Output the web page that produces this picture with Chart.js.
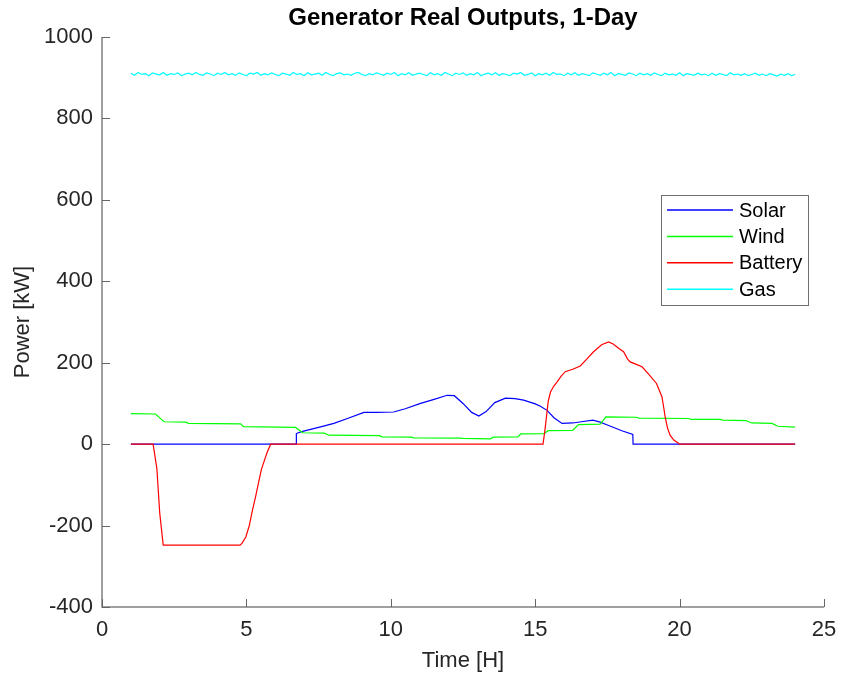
<!DOCTYPE html>
<html><head><meta charset="utf-8">
<script src="https://cdn.jsdelivr.net/npm/chart.js@4.4.0/dist/chart.umd.min.js"></script>
<style>html,body{margin:0;padding:0;background:#fff;}</style>
</head><body>
<canvas id="c" width="841" height="682"></canvas>
<script>
// ---- data ----
const seriesNames = ['Solar', 'Wind', 'Battery', 'Gas'];
const seriesColors = ['#0000ff', '#00ff00', '#ff0000', '#00ffff'];

const solarHours = [1, 6.72, 6.73, 6.88, 7.5, 8.03, 8.5, 9.07, 9.5, 10.1, 10.5, 11.03, 11.5, 11.95, 12.2, 12.5, 12.8, 13.05, 13.3, 13.6, 13.97, 14.3, 14.6, 15.0, 15.18, 15.41, 15.65, 15.93, 16.3, 16.6, 17.0, 17.25, 17.5, 18.0, 18.38, 18.39, 24];
const solarKW    = [0, 0, 26, 30, 41, 51, 63, 78, 78, 79, 87, 100, 110, 120, 119, 100, 78, 69, 80, 102, 113, 112, 108, 99, 93, 83, 65, 51, 52, 55, 59, 54, 47, 33, 24, 0, 0];

const windHours = [1, 1.85, 2.15, 2.9, 3.0, 4.8, 4.9, 6.7, 6.95, 7.7, 7.85, 9.6, 9.7, 10.7, 10.8, 12.4, 12.5, 13.45, 13.55, 14.4, 14.5, 15.3, 15.45, 16.3, 16.5, 17.25, 17.45, 18.5, 18.6, 20.3, 20.4, 21.4, 21.5, 22.3, 22.5, 23.2, 23.4, 24];
const windKW    = [75, 74, 55, 54, 51, 50, 43, 41, 28, 27, 22, 21, 18, 17, 15.5, 15, 14, 13, 17, 18, 25, 26, 33, 34, 48, 49, 67, 66, 64, 63, 61, 61, 59, 58, 52, 51, 44, 42];

const batteryHours = [1, 1.77, 1.9, 2.0, 2.12, 4.78, 4.85, 4.98, 5.1, 5.21, 5.33, 5.44, 5.52, 5.61, 5.72, 5.84, 15.27, 15.33, 15.39, 15.45, 15.53, 15.64, 15.76, 15.9, 16.04, 16.3, 16.56, 16.8, 17.02, 17.3, 17.54, 17.7, 17.9, 18.06, 18.2, 18.29, 18.5, 18.7, 18.95, 19.2, 19.3, 19.39, 19.45, 19.5, 19.58, 19.67, 19.8, 19.96, 20, 24];
const batteryKW    = [0, 0, -60, -170, -248, -248, -243, -228, -200, -162, -125, -88, -62, -43, -20, 0, 0, 30, 67, 105, 128, 142, 153, 167, 178, 184, 192, 210, 227, 244, 251, 246, 235, 227, 209, 202, 196, 190, 170, 149, 132, 116, 90, 67, 40, 22, 10, 2, 0, 0];

// Gas sampled every eighth of an hour from hour 1 to hour 24 (185 samples)
const gasStartHour = 1;
const gasStepHours = 0.125;
const gasKW = [
  911,906,913,908,910,905,912,909,907,913,906,910,908,912,905,909,911,907,913,908,
  906,912,909,905,911,908,913,907,910,906,912,908,905,911,909,913,906,910,907,912,
  908,905,911,909,906,913,908,910,905,912,907,909,911,906,913,908,905,910,912,907,
  909,906,911,913,908,905,910,907,912,909,906,911,908,913,905,910,907,912,906,909,
  911,908,905,912,907,910,906,913,909,905,911,908,912,906,910,907,913,905,909,911,
  907,912,906,910,908,905,911,909,913,906,908,912,905,910,907,911,906,913,908,909,
  905,911,907,912,906,910,908,905,912,909,906,911,907,913,905,910,908,906,912,909,
  905,911,907,910,906,912,908,905,911,907,909,906,912,905,910,908,906,911,907,909,
  905,911,906,910,908,905,912,907,909,906,910,905,908,911,906,909,905,910,907,904,
  909,906,910,905,908
];

const xTickStep = 5, xMin = 0, xMax = 25;
const yTickStep = 200, yMin = -400, yMax = 1000;

const titleText = 'Generator Real Outputs, 1-Day';
const xTitle = 'Time [H]';
const yTitle = 'Power [kW]';

// ---- build datasets ----
function pairs(hs, vs) { return hs.map((h, i) => ({x: h, y: vs[i]})); }
const gasHours = gasKW.map((_, i) => gasStartHour + i * gasStepHours);
const allData = [pairs(solarHours, solarKW), pairs(windHours, windKW), pairs(batteryHours, batteryKW), pairs(gasHours, gasKW)];

const FONT = "'Liberation Sans', Arial, Helvetica, sans-serif";
const datasets = allData.map((d, i) => ({
  label: seriesNames[i], data: d, showLine: true, borderColor: seriesColors[i],
  backgroundColor: seriesColors[i], borderWidth: 1.2, pointRadius: 0, tension: 0,
  order: 4 - i, fill: false
}));

const matlabPlugin = {
  id: 'matlab',
  afterDraw(chart) {
    const ctx = chart.ctx, a = chart.chartArea;
    const xs = chart.scales.x, ys = chart.scales.y;
    ctx.save();
    // axes lines
    ctx.strokeStyle = '#808080'; ctx.lineWidth = 1.5;
    ctx.beginPath();
    ctx.moveTo(a.left, a.top); ctx.lineTo(a.left, a.bottom); ctx.lineTo(a.right, a.bottom);
    ctx.stroke();
    // inward ticks
    ctx.lineWidth = 1; ctx.strokeStyle = '#666666';
    ctx.beginPath();
    ys.ticks.forEach(t => { const p = Math.round(ys.getPixelForValue(t.value)) + 0.5; ctx.moveTo(a.left, p); ctx.lineTo(a.left + 8, p); });
    xs.ticks.forEach(t => { const p = Math.round(xs.getPixelForValue(t.value)) + 0.5; ctx.moveTo(p, a.bottom); ctx.lineTo(p, a.bottom - 8); });
    ctx.stroke();
    // title
    const cx = (a.left + a.right) / 2;
    ctx.fillStyle = '#000000'; ctx.textAlign = 'center'; ctx.textBaseline = 'middle';
    ctx.font = 'bold 24px ' + FONT;
    ctx.fillText(titleText, cx, 18);
    // axis titles
    ctx.fillStyle = '#262626'; ctx.font = '22px ' + FONT;
    ctx.fillText(xTitle, cx, 661);
    ctx.save();
    ctx.translate(23, (a.top + a.bottom) / 2); ctx.rotate(-Math.PI / 2);
    ctx.fillText(yTitle, 0, 0);
    ctx.restore();
    // legend
    const lx = 661, ly = 195, lw = 147, lh = 110;
    ctx.fillStyle = '#ffffff'; ctx.fillRect(lx, ly, lw, lh);
    ctx.strokeStyle = '#6e6e6e'; ctx.lineWidth = 1;
    ctx.strokeRect(lx + 0.5, ly + 0.5, lw, lh);
    ctx.font = '20px ' + FONT; ctx.textAlign = 'left'; ctx.textBaseline = 'middle';
    seriesNames.forEach((name, i) => {
      const yy = 210 + i * 26.4;
      ctx.strokeStyle = seriesColors[i]; ctx.lineWidth = 1.5;
      ctx.beginPath(); ctx.moveTo(667, yy); ctx.lineTo(733, yy); ctx.stroke();
      ctx.fillStyle = '#000000';
      ctx.fillText(name, 739, yy + 1);
    });
    ctx.restore();
  }
};

new Chart(document.getElementById('c'), {
  type: 'scatter',
  data: { datasets },
  options: {
    responsive: false, animation: false, devicePixelRatio: 1,
    layout: { padding: { left: 0, right: 17, top: 37, bottom: 0 } },
    plugins: { legend: { display: false }, title: { display: false }, tooltip: { enabled: false } },
    scales: {
      x: {
        type: 'linear', min: xMin, max: xMax,
        grid: { display: false, drawTicks: false }, border: { display: false },
        ticks: { stepSize: xTickStep, padding: 10, color: '#262626', font: { family: FONT, size: 22 }, callback: v => String(v), maxRotation: 0 },
        afterFit: s => { s.height = 75; s.paddingRight = 0; s.paddingLeft = 0; }
      },
      y: {
        type: 'linear', min: yMin, max: yMax,
        grid: { display: false, drawTicks: false }, border: { display: false },
        ticks: { stepSize: yTickStep, padding: 9, color: '#262626', font: { family: FONT, size: 22 }, callback: v => String(v) },
        afterFit: s => { s.width = 102; s.paddingTop = 0; s.paddingBottom = 0; }
      }
    }
  },
  plugins: [matlabPlugin]
});
</script>
</body></html>
